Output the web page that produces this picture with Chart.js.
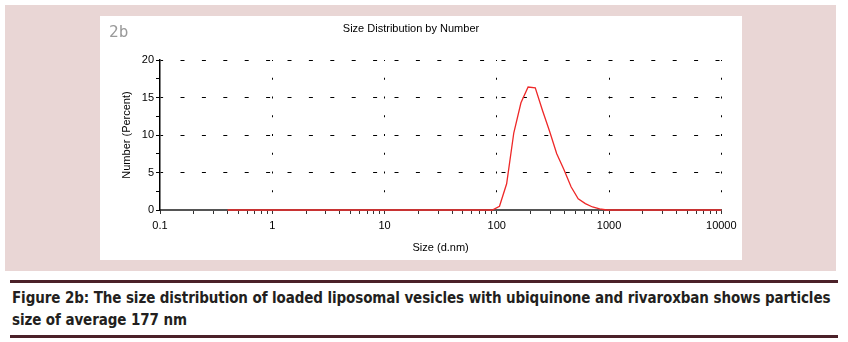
<!DOCTYPE html>
<html>
<head>
<meta charset="utf-8">
<script src="https://cdn.jsdelivr.net/npm/chart.js@4.4.1/dist/chart.umd.min.js"></script>
<style>
  body { margin: 0; background: #fff; width: 848px; height: 342px; position: relative; overflow: hidden; }
  #frame { position: absolute; left: 5px; top: 5px; width: 831px; height: 266px; background: #e9d6d5; }
  #panel { position: absolute; left: 100px; top: 16px; width: 642px; height: 244px; background: #fff; }
  #caption {
    position: absolute; left: 10px; top: 280px; width: 828px;
    border-top: 3px solid #4b2129; border-bottom: 3px solid #4b2129;
    padding: 4px 0 4px 2px; box-sizing: border-box;
    font-family: "Liberation Sans Narrow", "DejaVu Sans Condensed", "Liberation Sans", sans-serif;
    font-stretch: condensed; font-weight: bold; font-size: 15px; line-height: 22px;
    letter-spacing: -0.1px;
    color: #231f20; white-space: nowrap;
  }
</style>
</head>
<body>
<div id="frame"></div>
<div id="panel"><canvas id="sizeChart" width="642" height="244"></canvas></div>
<div id="caption">Figure 2b: The size distribution of loaded liposomal vesicles with ubiquinone and rivaroxban shows particles<br>size of average 177 nm</div>
<script>
// size classes (d.nm) and number distribution (%)
const sizes = [
  0.4, 0.4632, 0.5365, 0.6213, 0.7195, 0.8332, 0.9649, 1.117, 1.294, 1.499,
  1.736, 2.010, 2.328, 2.696, 3.122, 3.615, 4.187, 4.849, 5.615, 6.503,
  7.531, 8.721, 10.10, 11.70, 13.54, 15.69, 18.17, 21.04, 24.36, 28.21,
  32.67, 37.84, 43.82, 50.75, 58.77, 68.06, 78.82, 91.28, 105.7, 122.4,
  141.8, 164.2, 190.1, 220.2, 255.0, 295.3, 342.0, 396.1, 458.7, 531.2,
  615.1, 712.4, 825.0, 955.4, 1106, 1281, 1484, 1718, 1990, 2305,
  2669, 3091, 3580, 4145, 4801, 5560, 6439, 7456, 8635, 10000
];
const numberPct = [
  0, 0, 0, 0, 0, 0, 0, 0, 0, 0,
  0, 0, 0, 0, 0, 0, 0, 0, 0, 0,
  0, 0, 0, 0, 0, 0, 0, 0, 0, 0,
  0, 0, 0, 0, 0, 0, 0, 0, 0.5, 3.5,
  10.3, 14.3, 16.4, 16.3, 13.3, 10.5, 7.5, 5.4, 3.1, 1.5,
  0.85, 0.4, 0.15, 0, 0, 0, 0, 0, 0, 0,
  0, 0, 0, 0, 0, 0, 0, 0, 0, 0
];

const decadeTicks = [0.1, 1, 10, 100, 1000, 10000];
const decadeLabels = ['0.1', '1', '10', '100', '1000', '10000'];
const minorSteps = [2, 3, 4, 5, 6, 7, 8, 9];
const percentTicks = [0, 5, 10, 15, 20];

const tickFont = { family: '"Liberation Sans", Arial, sans-serif', size: 11 };

function isDecade(v) {
  return decadeTicks.some(d => Math.abs(d - v) < d * 1e-6);
}

// small grey tag in the corner
const cornerTag = {
  id: 'cornerTag',
  afterDraw(chart) {
    const ctx = chart.ctx;
    ctx.save();
    ctx.font = '16px "DejaVu Sans Mono", monospace';
    ctx.fillStyle = '#9a9a9a';
    ctx.textBaseline = 'middle';
    ctx.fillText('2b', 9, 17);
    ctx.restore();
  }
};

const canvas = document.getElementById('sizeChart');
const ctx = canvas.getContext('2d');

const chart = new Chart(ctx, {
  type: 'line',
  data: {
    datasets: [{
      data: sizes.map((s, i) => ({ x: s, y: numberPct[i] })),
      borderColor: 'rgb(238,40,40)',
      borderWidth: 1.3,
      pointRadius: 0,
      tension: 0,
      fill: false,
      clip: false
    }]
  },
  options: {
    responsive: false,
    animation: false,
    devicePixelRatio: 1,
    layout: { padding: { top: 0, right: 20, bottom: 0, left: 0 } },
    plugins: {
      legend: { display: false },
      tooltip: { enabled: false },
      title: {
        display: true,
        text: 'Size Distribution by Number',
        color: '#000',
        font: { family: '"Liberation Sans", Arial, sans-serif', size: 11, weight: 'normal' },
        padding: { top: 6, bottom: 24.8 }
      }
    },
    scales: {
      x: {
        type: 'logarithmic',
        min: 0.1,
        max: 10000,
        afterBuildTicks(scale) {
          const ticks = [];
          decadeTicks.forEach((d, i) => {
            ticks.push({ value: d, major: true });
            if (i < decadeTicks.length - 1) {
              minorSteps.forEach(k => ticks.push({ value: Number((d * k).toPrecision(3)) }));
            }
          });
          scale.ticks = ticks;
        },
        afterFit(scale) { scale.height = 50; },
        ticks: {
          autoSkip: false,
          maxRotation: 0,
          padding: 5.4,
          color: '#000',
          font: tickFont,
          callback(value) {
            const i = decadeTicks.findIndex(d => Math.abs(d - value) < d * 1e-6);
            return i >= 0 ? decadeLabels[i] : '';
          }
        },
        grid: {
          color: c => (c.tick && isDecade(c.tick.value) && c.tick.value !== 0.1) ? '#000' : 'rgba(0,0,0,0)',
          lineWidth: 1,
          tickLength: 4,
          tickColor: '#333',
          tickWidth: 1
        },
        border: { display: true, color: '#555', width: 2, dash: [2, 16.75], dashOffset: 1 },
        title: {
          display: true,
          text: 'Size (d.nm)',
          color: '#000',
          font: tickFont,
          padding: { top: 0, bottom: 5.4 }
        }
      },
      y: {
        min: 0,
        max: 20,
        afterFit(scale) { scale.width = 60; },
        ticks: {
          stepSize: 2.5,
          padding: 2,
          color: '#000',
          font: tickFont,
          callback(value) {
            return percentTicks.includes(value) ? String(value) : '';
          }
        },
        grid: {
          color: c => (c.tick && percentTicks.includes(c.tick.value) && c.tick.value !== 0) ? '#000' : 'rgba(0,0,0,0)',
          lineWidth: 1,
          tickLength: 4,
          tickColor: '#000',
          tickWidth: 1
        },
        border: { display: true, color: '#000', width: 1.5, dash: [4, 17.4], dashOffset: 1.4 },
        title: {
          display: true,
          text: 'Number (Percent)',
          color: '#000',
          font: tickFont,
          padding: { top: 20.4, bottom: 0 }
        }
      }
    }
  },
  plugins: [cornerTag]
});
</script>
</body>
</html>
